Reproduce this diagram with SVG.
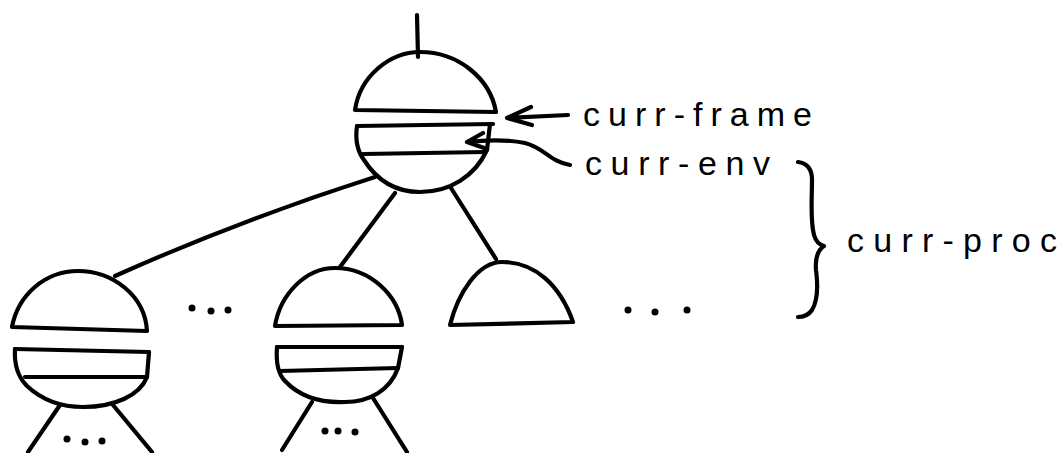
<svg xmlns="http://www.w3.org/2000/svg" width="1061" height="453" viewBox="0 0 1061 453">
  <style>
    .ink { fill: none; stroke: #000; stroke-width: 4.2; stroke-linecap: round; stroke-linejoin: round; }
    .dot { fill: #000; stroke: none; }
    .lbl { font-family: "Liberation Sans", "DejaVu Sans", sans-serif; font-size: 34px; fill: #000; }
  </style>
  <rect width="1061" height="453" fill="#fff"/>

  <g id="connectors" class="ink">
    <path d="M417,15 L418,57"/>
    <path d="M375,177 Q240,220 115,276"/>
    <path d="M395,193 L340,267"/>
    <path d="M451,188 L496,259"/>
  </g>

  <g id="root-node" class="ink">
    <path d="M355,110 C360,76 390,52 420,52 C458,52 490,78 496,112 Z"/>
    <path d="M357,126 L493,124"/>
    <path d="M363,154 L485,152"/>
    <path d="M357,126 C355,140 358,152 364,160 C378,182 398,192 420,192 C450,192 475,176 487,150 L490,124"/>
  </g>

  <g id="left-child" class="ink">
    <path d="M12,327 C18,295 45,271 78,271 C112,271 145,295 147,331 Z"/>
    <path d="M15,349 L149,352"/>
    <path d="M25,377 L147,377"/>
    <path d="M15,349 C14,365 19,378 27,386 C42,400 60,407 83,407 C115,407 140,395 147,377 L149,352"/>
    <path d="M60,405 L28,452"/>
    <path d="M113,405 L152,452"/>
  </g>
  <g id="left-child-dots" class="dot">
    <circle cx="67" cy="439" r="3.5"/>
    <circle cx="85" cy="442" r="3.5"/>
    <circle cx="102" cy="441" r="3.5"/>
  </g>

  <g id="dots-between" class="dot">
    <circle cx="192" cy="308" r="3.5"/>
    <circle cx="211" cy="311" r="3.5"/>
    <circle cx="228" cy="310" r="3.5"/>
  </g>

  <g id="middle-child" class="ink">
    <path d="M275,326 C280,295 305,268 335,268 C370,268 398,295 402,325 Z"/>
    <path d="M277,347 L402,347"/>
    <path d="M280,371 L398,368"/>
    <path d="M277,347 C276,360 278,374 285,381 C300,397 320,403 345,402 C370,402 390,390 398,368 L402,347"/>
    <path d="M312,402 L282,450"/>
    <path d="M373,398 L407,452"/>
  </g>
  <g id="middle-child-dots" class="dot">
    <circle cx="325" cy="431" r="3.5"/>
    <circle cx="338" cy="431" r="3.5"/>
    <circle cx="355" cy="432" r="3.5"/>
  </g>

  <g id="right-child" class="ink">
    <path d="M450,325 C458,293 478,262 502,262 C535,262 560,285 573,322 Z"/>
  </g>

  <g id="dots-right" class="dot">
    <circle cx="628" cy="310" r="3.5"/>
    <circle cx="655" cy="312" r="3.5"/>
    <circle cx="687" cy="310" r="3.5"/>
  </g>

  <g id="curr-frame">
    <path class="ink" d="M568,115 L507,118 M531,107 L507,118 L532,125"/>
    <text class="lbl" x="583" y="126" textLength="229" lengthAdjust="spacing">curr-frame</text>
  </g>

  <g id="curr-env">
    <path class="ink" d="M570,165 C550,162 545,148 525,143 C505,139 485,140 467,142 M483,133 L467,142 L487,149"/>
    <text class="lbl" x="585" y="175" textLength="185" lengthAdjust="spacing">curr-env</text>
  </g>

  <g id="curr-proc">
    <path class="ink" d="M798,162 C806,163 812,168 812,180 C812,200 810,220 814,235 C816,242 820,245 824,246 C818,250 815,258 816,270 C818,285 818,300 812,310 C808,316 803,317 798,317"/>
    <text class="lbl" x="847" y="252" textLength="210" lengthAdjust="spacing">curr-proc</text>
  </g>
</svg>
